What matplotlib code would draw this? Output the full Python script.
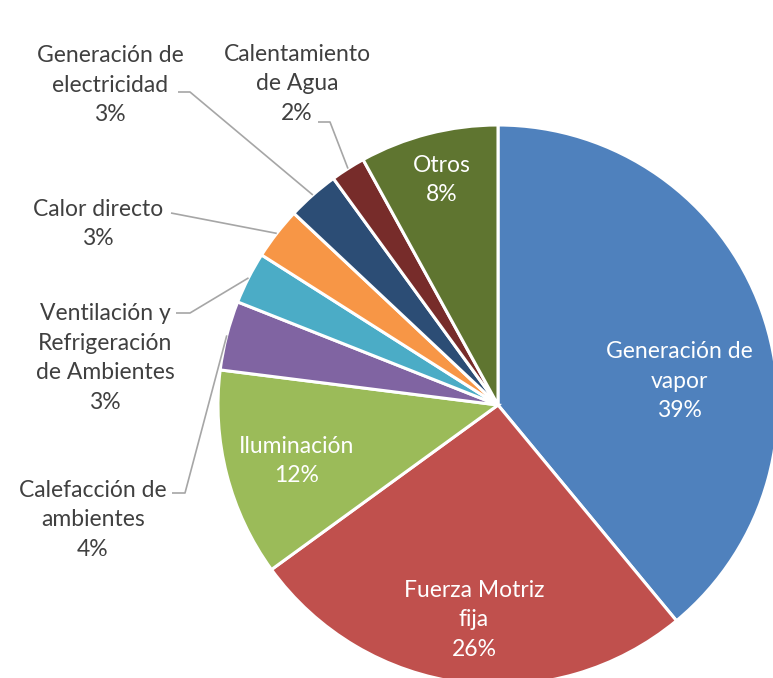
import numpy as np
import matplotlib
matplotlib.use('Agg')
import matplotlib.pyplot as plt

# Datos
categorias = ['Generación de\nvapor', 'Fuerza Motriz\nfija', 'Iluminación',
              'Calefacción de\nambientes', 'Ventilación y\nRefrigeración\nde Ambientes',
              'Calor directo', 'Generación de\nelectricidad', 'Calentamiento\nde Agua', 'Otros']
porcentajes = [39, 26, 12, 4, 3, 3, 3, 2, 8]
colores = ['#4F81BD', '#C0504D', '#9BBB59', '#8064A2', '#4BACC6',
           '#F79646', '#2C4D75', '#772C2A', '#5F7530']

W, H = 773, 678
plt.rcParams['font.family'] = ['Lato', 'DejaVu Sans']

fig = plt.figure(figsize=(W/100, H/100), dpi=100)
ax = plt.axes((0, 0, 1, 1), frame_on=False)
ax.axis('off')

cx, cy, r = 498, H-405, 280
wedges, _ = ax.pie(porcentajes, colors=colores, startangle=90, counterclock=False,
                   center=(cx, cy), radius=r,
                   wedgeprops=dict(edgecolor='white', linewidth=2.2))
ax.set_xlim(0, W)
ax.set_ylim(0, H)
ax.set_aspect('equal')

# Etiquetas dentro (posicion en pixels de la imagen)
dentro = {0: (679, 381), 1: (474, 620), 2: (297, 461), 8: (442, 180)}
# Etiquetas fuera: posicion del texto, inicio de la linea guia
fuera = {3: ((93, 520), (172, 493), (185, 493)),
         4: ((105, 358), (176, 313), (190, 313)),
         5: ((98, 224), (171, 213), None),
         6: ((110, 85), (178, 92), (190, 92)),
         7: ((297, 84), (318, 122), (330, 122))}

fs = 16.5
ls = 1.5
for i, w in enumerate(wedges):
	txt = '%s\n%d%%' % (categorias[i], porcentajes[i])
	if i in dentro:
		x, y = dentro[i]
		ax.text(x, H-y, txt, color='white', fontsize=fs, ha='center', va='center', linespacing=ls)
	else:
		(x, y), p0, p1 = fuera[i]
		ax.text(x, H-y, txt, color='#404040', fontsize=fs, ha='center', va='center', linespacing=ls)
		ang = np.deg2rad((w.theta1 + w.theta2)/2)
		px, py = cx + r*np.cos(ang), cy + r*np.sin(ang)
		xs = [p0[0]] + ([p1[0]] if p1 else []) + [px]
		ys = [H-p0[1]] + ([H-p1[1]] if p1 else []) + [py]
		ax.plot(xs, ys, color='#A6A6A6', lw=1.2, solid_capstyle='butt')

plt.savefig('out.png', dpi=100)
plt.close()
